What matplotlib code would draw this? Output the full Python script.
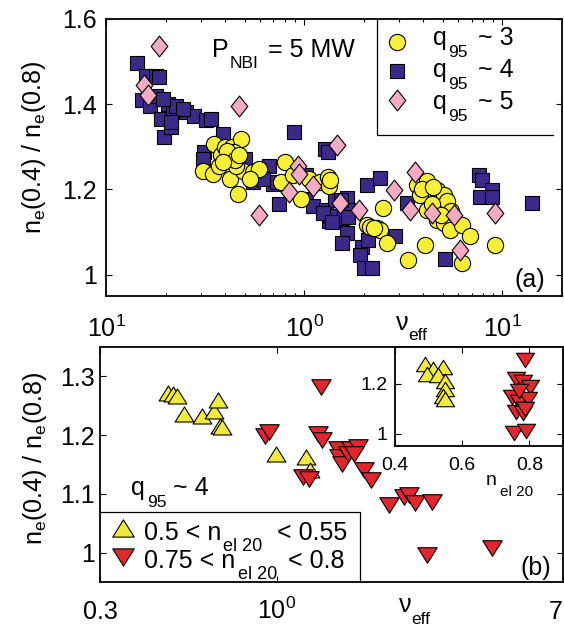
import matplotlib
matplotlib.use('Agg')
import matplotlib.pyplot as plt
from matplotlib.lines import Line2D
from matplotlib.path import Path
from matplotlib.ticker import LogLocator, NullFormatter, NullLocator

plt.rcParams['font.family'] = ['Liberation Sans', 'DejaVu Sans']
plt.rcParams['mathtext.fontset'] = 'custom'
plt.rcParams['mathtext.rm'] = 'Liberation Sans'
plt.rcParams['mathtext.it'] = 'Liberation Sans'
plt.rcParams['mathtext.bf'] = 'Liberation Sans:bold'
plt.rcParams['mathtext.sf'] = 'Liberation Sans'

# ---------------- data: panel (a) ----------------
v_q3 = [0.352, 0.381, 0.40, 0.43, 0.481, 0.307, 0.346, 0.372, 0.42, 0.462,
        0.49, 0.551, 0.594, 0.453, 0.428, 0.44, 0.41, 0.53, 0.45, 0.47, 0.39,
        0.796, 0.766, 0.877, 0.966, 1.06, 1.195, 1.318, 1.34, 1.35,
        2.51, 2.07, 2.15, 2.33, 2.4, 2.25, 2.61, 3.36, 4.08, 3.71, 4.16, 3.85,
        4.68, 5.05, 5.25, 4.16, 4.68, 5.05, 5.46, 6.25, 6.89, 6.25, 9.23,
        4.4, 3.95, 5.5, 4.9, 4.45]
r_q3 = [1.307, 1.280, 1.300, 1.300, 1.319, 1.244, 1.237, 1.256, 1.225, 1.190,
        1.244, 1.240, 1.248, 1.256, 1.276, 1.287, 1.290, 1.225, 1.270, 1.280, 1.265,
        1.264, 1.217, 1.233, 1.178, 1.225, 1.217, 1.229, 1.209, 1.222,
        1.156, 1.117, 1.113, 1.109, 1.105, 1.110, 1.074, 1.035, 1.070, 1.211, 1.219, 1.187,
        1.199, 1.187, 1.172, 1.152, 1.129, 1.121, 1.105, 1.117, 1.090, 1.027, 1.070,
        1.165, 1.200, 1.150, 1.140, 1.205]

v_q4 = [0.143, 0.159, 0.179, 0.186, 0.152, 0.166, 0.179, 0.190, 0.197, 0.213,
        0.205, 0.217, 0.226, 0.254, 0.279, 0.320, 0.339, 0.388, 0.314, 0.307,
        0.500, 0.551, 0.668, 0.695, 0.75, 0.893, 1.02, 1.02, 1.107, 1.27,
        1.32, 1.29, 1.33, 0.618, 0.244, 0.213, 0.193, 0.73,
        2.07, 2.40, 3.30, 1.43, 1.64, 1.67, 1.55, 1.35, 1.64, 1.55, 1.95,
        1.92, 2.0, 2.2, 2.11, 2.88, 5.15, 7.59, 7.89, 7.74, 8.87, 8.87,
        14.1, 1.24, 1.38, 1.53, 1.67]
r_q4 = [1.496, 1.467, 1.467, 1.463, 1.409, 1.397, 1.420, 1.366, 1.323, 1.346,
        1.401, 1.389, 1.397, 1.381, 1.373, 1.362, 1.366, 1.330, 1.287, 1.272,
        1.272, 1.217, 1.256, 1.213, 1.166, 1.336, 1.233, 1.178, 1.162, 1.295,
        1.287, 1.151, 1.127, 1.225, 1.389, 1.358, 1.412, 1.218,
        1.211, 1.227, 1.168, 1.176, 1.180, 1.152, 1.133, 1.137, 1.098, 1.075, 1.066,
        1.047, 1.016, 1.016, 1.082, 1.090, 1.037, 1.234, 1.223, 1.183, 1.199, 1.183,
        1.168, 1.144, 1.124, 1.176, 1.136]

v_q5 = [0.186, 0.156, 0.162, 0.468, 0.59, 0.837, 0.929, 0.947, 1.107, 1.46,
        1.52, 1.90, 2.83, 3.64, 3.43, 4.41, 5.72, 6.09, 9.23]
r_q5 = [1.537, 1.444, 1.422, 1.397, 1.139, 1.194, 1.256, 1.237, 1.209, 1.305,
        1.168, 1.152, 1.199, 1.242, 1.152, 1.144, 1.140, 1.058, 1.144]

# ---------------- data: panel (b) ----------------
v_low = [0.475, 0.493, 0.506, 0.531, 0.600, 0.653, 0.670, 0.681, 0.69, 0.993, 1.22, 1.25]
r_low = [1.272, 1.269, 1.266, 1.236, 1.233, 1.241, 1.259, 1.216, 1.213, 1.168, 1.163, 1.140]

v_high = [0.923, 0.945, 1.35, 1.32, 1.36, 1.19, 1.24, 1.51, 1.52, 1.56, 1.62,
          1.66, 1.73, 1.69, 1.81, 1.90, 2.15, 2.37, 2.46, 2.55, 2.88, 2.78, 4.33]
r_high = [1.199, 1.205, 1.281, 1.202, 1.191, 1.129, 1.126, 1.177, 1.162, 1.151, 1.168,
          1.177, 1.179, 1.168, 1.140, 1.123, 1.081, 1.095, 1.098, 1.084, 1.087, 0.997, 1.008]

# inset: ratio vs density
n_low = [0.490, 0.512, 0.544, 0.496, 0.528, 0.549, 0.549, 0.544, 0.549]
ri_low = [1.281, 1.261, 1.268, 1.241, 1.234, 1.213, 1.180, 1.153, 1.139]
n_high = [0.786, 0.759, 0.781, 0.802, 0.748, 0.770, 0.797, 0.759, 0.781, 0.754,
          0.791, 0.786, 0.770]
ri_high = [1.295, 1.220, 1.207, 1.186, 1.146, 1.126, 1.139, 1.085, 1.081, 1.004,
           1.011, 1.100, 1.170]

xt_a = [0.1, 1, 10]
xtl_a = ['$10^{1}$', '$10^{0}$', '$10^{1}$']
yt_a = [1, 1.2, 1.4, 1.6]
ytl_a = ['1', '1.2', '1.4', '1.6']
xt_b = [0.3, 1, 7]
xtl_b = ['0.3', '$10^{0}$', '7']
yt_b = [1, 1.1, 1.2, 1.3]
ytl_b = ['1', '1.1', '1.2', '1.3']
xt_i = [0.4, 0.6, 0.8]
xtl_i = ['0.4', '0.6', '0.8']
yt_i = [1, 1.2]
ytl_i = ['1', '1.2']

# ---------------- styles ----------------
C_YEL = '#F6EF38'
C_PUR = '#3C2A8A'
C_PNK = '#F5AAC4'
C_RED = '#E2262D'
C_YT = '#F0EA3A'
EW = 0.8
DIAM = Path([(0, 1), (0.8, 0), (0, -1), (-0.8, 0), (0, 1)],
            [Path.MOVETO, Path.LINETO, Path.LINETO, Path.LINETO, Path.CLOSEPOLY])
TRI_UP = Path([(0, 0.8), (1, -0.8), (-1, -0.8), (0, 0.8)],
              [Path.MOVETO, Path.LINETO, Path.LINETO, Path.CLOSEPOLY])
TRI_DN = Path([(0, -0.8), (1, 0.8), (-1, 0.8), (0, -0.8)],
              [Path.MOVETO, Path.LINETO, Path.LINETO, Path.CLOSEPOLY])

W, H = 564, 635
def fx(x):
    return x / W
def fy(y):
    return 1 - y / H

fig = plt.figure(figsize=(W / 100, H / 100), dpi=100)
ax1 = fig.add_axes([fx(106), fy(296), (562 - 106) / W, (296 - 19) / H])
ax2 = fig.add_axes([fx(100), fy(582.3), (563 - 100) / W, (582.3 - 346.7) / H])
ax3 = fig.add_axes([fx(395), fy(446), (563 - 395) / W, (446 - 346.7) / H])

TS = 18
for ax in (ax1, ax2, ax3):
    for s in ax.spines.values():
        s.set_linewidth(1.3)
    ax.tick_params(which='both', direction='in', top=True, right=True, width=0.8)
    ax.tick_params(which='major', length=4)
    ax.tick_params(which='minor', length=2.2)

# ---- panel (a)
ax1.plot(v_q4, r_q4, ls='none', marker='s', ms=9.8, mfc=C_PUR, mec='k', mew=EW)
ax1.plot(v_q3, r_q3, ls='none', marker='o', ms=11.7, mfc=C_YEL, mec='k', mew=EW)
ax1.plot(v_q5, r_q5, ls='none', marker=DIAM, ms=15, mfc=C_PNK, mec='k', mew=EW)
ax1.set_xscale('log')
ax1.set_xlim(0.1, 20)
ax1.set_ylim(0.95, 1.6)
ax1.set_xticks(xt_a, xtl_a)
ax1.xaxis.set_minor_locator(LogLocator(base=10, subs=[2, 3, 4, 5, 6, 7, 8, 9]))
ax1.xaxis.set_minor_formatter(NullFormatter())
ax1.set_yticks(yt_a, ytl_a)
ax1.tick_params(axis='x', labelsize=TS, pad=29.5)
ax1.tick_params(axis='y', labelsize=TS, pad=6.5)
for t in ax1.xaxis.get_major_ticks():
    t.label1.set_va('baseline')

# ---- panel (b)
ax2.plot(v_low, r_low, ls='none', marker=TRI_UP, ms=13.5, mfc=C_YT, mec='k', mew=EW)
ax2.plot(v_high, r_high, ls='none', marker=TRI_DN, ms=14, mfc=C_RED, mec='k', mew=EW)
ax2.set_xscale('log')
ax2.set_xlim(0.3, 7)
ax2.set_ylim(0.95, 1.35)
ax2.set_xticks(xt_b, xtl_b)
ax2.xaxis.set_minor_locator(NullLocator())
ax2.set_yticks(yt_b, ytl_b)
ax2.tick_params(axis='x', labelsize=TS, pad=26.5)
ax2.tick_params(axis='y', labelsize=TS, pad=3.5)
for i, t in enumerate(ax2.xaxis.get_major_ticks()):
    t.label1.set_va('baseline')
    if i == len(xt_b) - 1:
        t.label1.set_ha('right')

# ---- inset
ax3.plot(n_low, ri_low, ls='none', marker=TRI_UP, ms=13, mfc=C_YT, mec='k', mew=EW)
ax3.plot(n_high, ri_high, ls='none', marker=TRI_DN, ms=13, mfc=C_RED, mec='k', mew=EW)
ax3.set_xlim(0.4, 0.9)
ax3.set_ylim(0.95, 1.35)
ax3.set_xticks(xt_i, xtl_i)
ax3.set_yticks(yt_i, ytl_i)
ax3.tick_params(labelsize=14)
ax3.tick_params(axis='x', pad=8)
ax3.tick_params(axis='y', pad=5.5)

# ---- text with large, deep subscripts: (text, x px, baseline px, size)
def rich(parts):
    for s, x, y, size in parts:
        fig.text(fx(x), fy(y), s, ha='left', va='baseline', fontsize=size)

ylab = 'n$_{\\mathrm{e}}$(0.4) / n$_{\\mathrm{e}}$(0.8)'
fig.text(fx(34), fy(147), ylab, rotation=90, ha='center', va='center', fontsize=18)
fig.text(fx(35), fy(458), ylab, rotation=90, ha='center', va='center', fontsize=18)

rich([('\u03bd', 396, 330, 18), ('eff', 408, 340, 12.5)])
rich([('\u03bd', 399, 612, 18), ('eff', 411, 624, 12.5)])
rich([('P', 212, 57, 18), ('NBI', 230, 68, 12.5), ('= 5 MW', 268, 57, 18)])
rich([('q', 131.5, 495, 18), ('95', 147, 507, 12.5), ('~ 4', 173, 495, 18)])
rich([('n', 486, 485, 14), ('el 20', 500, 496, 11)])
fig.text(fx(515), fy(287), '(a)', ha='left', va='baseline', fontsize=18)
fig.text(fx(521), fy(575), '(b)', ha='left', va='baseline', fontsize=18)

# legend (a): keys + texts + border lines
leg_a = [('o', 11.7, C_YEL, 42, 45, '3'),
         ('s', 9.8, C_PUR, 71, 77, '4'),
         (DIAM, 15, C_PNK, 100, 109, '5')]
for mk, ms, col, ym, yt, num in leg_a:
    fig.add_artist(Line2D([fx(397)], [fy(ym)], transform=fig.transFigure, ls='none',
                          marker=mk, ms=ms, mfc=col, mec='k', mew=EW))
    rich([('q', 433, yt, 18), ('95', 448, yt + 12, 12.5), ('~ ' + num, 478, yt, 18)])
fig.add_artist(Line2D([fx(377), fx(377), fx(553)], [fy(19), fy(135), fy(135)],
                      transform=fig.transFigure, color='k', lw=0.9))

# legend (b)
leg_b = [(TRI_UP, C_YT, 528, 540, '0.5 < n', 223, '< 0.55', 277),
         (TRI_DN, C_RED, 557, 568, '0.75 < n', 238, '< 0.8', 288)]
for mk, col, ym, yt, t1, xs, t2, x2 in leg_b:
    fig.add_artist(Line2D([fx(122.5)], [fy(ym)], transform=fig.transFigure, ls='none',
                          marker=mk, ms=15.5, mfc=col, mec='k', mew=EW))
    rich([(t1, 144, yt, 18), ('el 20', xs, yt + 11, 13), (t2, x2, yt, 18)])
fig.add_artist(Line2D([fx(100), fx(359.5), fx(359.5)], [fy(511.7), fy(511.7), fy(582)],
                      transform=fig.transFigure, color='k', lw=0.9))

fig.savefig('out.png', dpi=100)
